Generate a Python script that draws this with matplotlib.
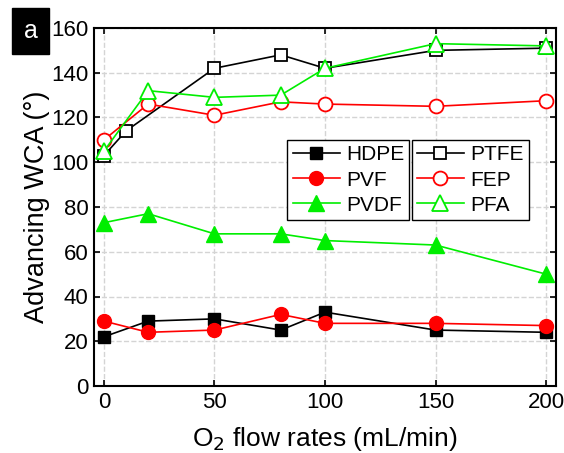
import matplotlib
matplotlib.use("Agg")
import matplotlib.pyplot as plt

plt.rcParams['font.family'] = ['Liberation Sans', 'DejaVu Sans']

# O2 flow rates (mL/min)
x_main = [0, 20, 50, 80, 100, 150, 200]
x_ptfe = [0, 10, 50, 80, 100, 150, 200]

hdpe = [22, 29, 30, 25, 33, 25, 24]
pvf = [29, 24, 25, 32, 28, 28, 27]
pvdf = [73, 77, 68, 68, 65, 63, 50]
ptfe = [103, 114, 142, 148, 142, 150, 151]
fep = [110, 126, 121, 127, 126, 125, 127.5]
pfa = [105, 132, 129, 130, 142, 153, 152]

xticks = [0, 50, 100, 150, 200]
yticks = [0, 20, 40, 60, 80, 100, 120, 140, 160]

GREEN = '#00ee00'

fig = plt.figure(figsize=(5.64, 4.53), dpi=100)
ax = fig.add_axes([94 / 564, 1 - 386 / 453, 462 / 564, 358 / 453])

lw = 1.2
h1, = ax.plot(x_main, hdpe, color='black', marker='s', ms=9, mfc='black', lw=lw, label='HDPE')
h2, = ax.plot(x_main, pvf, color='red', marker='o', ms=10, mfc='red', lw=lw, label='PVF')
h3, = ax.plot(x_main, pvdf, color=GREEN, marker='^', ms=11, mfc=GREEN, lw=lw, label='PVDF')
h4, = ax.plot(x_ptfe, ptfe, color='black', marker='s', ms=9, mfc='white', mew=1.3, lw=lw, label='PTFE')
h5, = ax.plot(x_main, fep, color='red', marker='o', ms=10, mfc='white', mew=1.3, lw=lw, label='FEP')
h6, = ax.plot(x_main, pfa, color=GREEN, marker='^', ms=11, mfc='white', mew=1.3, lw=lw, label='PFA')

ax.set_xlim(-4.5, 204.5)
ax.set_ylim(0, 160)
ax.set_xticks(xticks)
ax.set_yticks(yticks)
ax.tick_params(direction='in', labelsize=16, length=4, width=1.2,
               top=True, right=True, pad=4)
ax.grid(True, ls='--', color='#d4d4d4', lw=1)
for s in ax.spines.values():
    s.set_linewidth(1.5)

ax.set_xlabel('O$_2$ flow rates (mL/min)', fontsize=19, labelpad=9)
ax.set_ylabel('Advancing WCA (°)', fontsize=19.5, labelpad=1)

leg_kw = dict(fontsize=15, fancybox=False, edgecolor='black', framealpha=1,
              handlelength=2.25, handletextpad=0.3, borderpad=0.25,
              labelspacing=0.3, borderaxespad=0)
leg1 = ax.legend(handles=[h1, h2, h3], loc='upper left',
                 bbox_to_anchor=(0.4187, 0.687), **leg_kw)
leg1.get_frame().set_linewidth(1)
ax.add_artist(leg1)
leg2 = ax.legend(handles=[h4, h5, h6], loc='upper left',
                 bbox_to_anchor=(0.6876, 0.687), **leg_kw)
leg2.get_frame().set_linewidth(1)

fig.text(30.5 / 564, 1 - 31 / 453, 'a', color='white', fontsize=18,
         ha='center', va='center',
         bbox=dict(boxstyle='square,pad=0.45', fc='black', ec='black'))

fig.savefig('out.png', dpi=100)
